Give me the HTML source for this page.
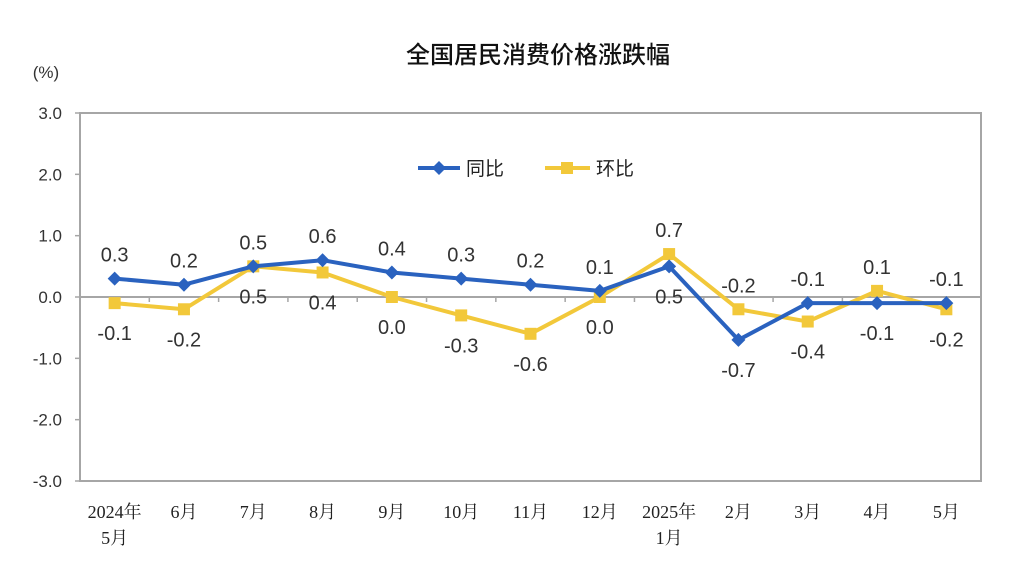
<!DOCTYPE html>
<html><head><meta charset="utf-8"><style>
body{margin:0;background:#fff;}
svg{display:block;font-family:"Liberation Sans","Noto Sans CJK SC",sans-serif;}
</style></head><body>
<svg id="c" width="1009" height="574"></svg>
<script>
const categories=[["2024年","5月"],["6月"],["7月"],["8月"],["9月"],["10月"],["11月"],["12月"],["2025年","1月"],["2月"],["3月"],["4月"],["5月"]];
const yoy=[0.3,0.2,0.5,0.6,0.4,0.3,0.2,0.1,0.5,-0.7,-0.1,-0.1,-0.1];
const mom=[-0.1,-0.2,0.5,0.4,0.0,-0.3,-0.6,0.0,0.7,-0.2,-0.4,0.1,-0.2];
const yoyAbove=[1,1,1,1,1,1,1,1,0,0,1,0,1];
const momAbove=[0,0,0,0,0,0,0,0,1,1,0,1,0];
const yTicks=[3,2,1,0,-1,-2,-3];
const L=80,R=981,T=113,B=481;
const step=(R-L)/categories.length;
const x=i=>L+step*(i+0.5);
const y=v=>T+(3-v)/6*(B-T);
const s=document.getElementById('c');
const NS='http://www.w3.org/2000/svg';
function mk(t,a,txt){const e=document.createElementNS(NS,t);for(const k in a)e.setAttribute(k,a[k]);if(txt!==undefined)e.textContent=txt;s.appendChild(e);return e;}
let e;
e=mk('text',{x:538,y:63,'text-anchor':'middle','font-size':24,'font-weight':'500',fill:'#111'},'全国居民消费价格涨跌幅');


e=mk('text',{x:46,y:78,'text-anchor':'middle','font-size':17,fill:'#333'},'(%)');


e=mk('rect',{x:L,y:T,width:R-L,height:B-T,fill:'none',stroke:'#a6a6a6','stroke-width':2});


yTicks.forEach(v=>{
 e=mk('text',{x:62,y:y(v)+6,'text-anchor':'end','font-size':17,fill:'#333'},v.toFixed(1));
 
 
 e=mk('line',{x1:L-5,x2:L,y1:y(v),y2:y(v),stroke:'#a6a6a6','stroke-width':1.5});
 
 
});
e=mk('line',{x1:L,x2:R,y1:y(0),y2:y(0),stroke:'#a6a6a6','stroke-width':2});


for(let i=1;i<categories.length;i++){
 e=mk('line',{x1:L+step*i,x2:L+step*i,y1:y(0),y2:y(0)+5,stroke:'#a6a6a6','stroke-width':1.5});
 
 
}
categories.forEach((c,i)=>{
 c.forEach((t,j)=>{
  e=mk('text',{x:x(i),y:518+j*26,'text-anchor':'middle','font-size':18,fill:'#222','font-family':'Liberation Serif, Noto Serif CJK SC, serif'},t);
  
  
 });
});
function series(vals,color,name,marker){
 e=mk('polyline',{points:vals.map((v,i)=>x(i)+','+y(v)).join(' '),fill:'none',stroke:color,'stroke-width':4,'stroke-linejoin':'round'});
 
 
 vals.forEach((v,i)=>{
  if(marker==='d') e=mk('polygon',{points:`${x(i)},${y(v)-7} ${x(i)+7},${y(v)} ${x(i)},${y(v)+7} ${x(i)-7},${y(v)}`,fill:color});
  else e=mk('rect',{x:x(i)-6,y:y(v)-6,width:12,height:12,fill:color});
  
  
 });
}
series(mom,'#f2c83a','mom','s');
series(yoy,'#2a62bf','yoy','d');
function labels(vals,above,name){
 vals.forEach((v,i)=>{
  const ty=above[i]?y(v)-17:y(v)+37;
  e=mk('text',{x:x(i),y:ty,'text-anchor':'middle','font-size':20,fill:'#333'},v.toFixed(1));
  
  
 });
}
labels(yoy,yoyAbove,'yoy');
labels(mom,momAbove,'mom');
e=mk('line',{x1:418,x2:460,y1:168,y2:168,stroke:'#2a62bf','stroke-width':4});


e=mk('polygon',{points:'439,161 446,168 439,175 432,168',fill:'#2a62bf'});


e=mk('text',{x:466,y:175,'font-size':19,fill:'#222'},'同比');


e=mk('line',{x1:545,x2:590,y1:168,y2:168,stroke:'#f2c83a','stroke-width':4});


e=mk('rect',{x:561,y:162,width:12,height:12,fill:'#f2c83a'});


e=mk('text',{x:596,y:175,'font-size':19,fill:'#222'},'环比');


</script>
</body></html>
